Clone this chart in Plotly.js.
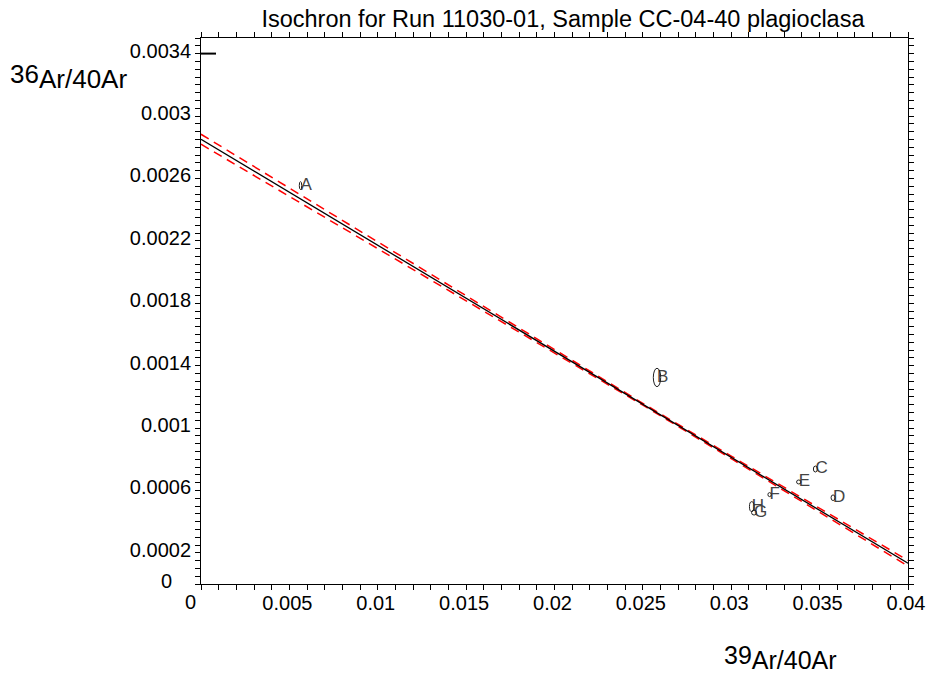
<!DOCTYPE html>
<html>
<head>
<meta charset="utf-8">
<script src="https://cdn.plot.ly/plotly-3.0.1.min.js"></script>
<style>html,body{margin:0;padding:0;background:#fff;}#chart{width:926px;height:677px;}</style>
</head>
<body>
<div id="chart"></div>
<script>
// ---- data ----
const pointLabels = ['A', 'B', 'C', 'D', 'E', 'F', 'G', 'H'];
const pointX = [0.00563, 0.0258, 0.03476, 0.03576, 0.03382, 0.03217, 0.03129, 0.03116];
const pointY = [0.002554, 0.001324, 0.000737, 0.000553, 0.000654, 0.000573, 0.000458, 0.000496];
const errX = [0.000068, 0.000209, 0.000113, 0.000113, 0.000124, 0.000096, 0.000141, 0.00013];
const errY = [0.0000256, 0.000059, 0.0000192, 0.000018, 0.0000128, 0.0000128, 0.000016, 0.000032];

const fitX = [0, 0.04];
const fitY = [0.002851, 0.0001327];

const envX = [0, 0.005, 0.01, 0.015, 0.02, 0.025, 0.03, 0.035, 0.04];
const envUpper = [0.002883, 0.002537, 0.002191, 0.001847, 0.001501, 0.001158, 0.000820, 0.000485, 0.000151];
const envLower = [0.002819, 0.002485, 0.002151, 0.001817, 0.001483, 0.001146, 0.000804, 0.000461, 0.000115];

const markX = [0, 0.00085];
const markY = [0.0034, 0.0034];

const xTickVals = [0.005, 0.01, 0.015, 0.02, 0.025, 0.03, 0.035, 0.04];
const xTickText = ['0.005', '0.01', '0.015', '0.02', '0.025', '0.03', '0.035', '0.04'];
const yTickVals = [0.0002, 0.0006, 0.001, 0.0014, 0.0018, 0.0022, 0.0026, 0.003, 0.0034];
const yTickText = ['0.0002', '0.0006', '0.001', '0.0014', '0.0018', '0.0022', '0.0026', '0.003', '0.0034'];
const zeroLabel = '0';

const titleText = 'Isochron for Run 11030-01, Sample CC-04-40 plagioclasa';
const yTitleText = '36<sub><span style="font-size:143%">Ar/40Ar</span></sub>';
const xTitleText = '39<sub><span style="font-size:143%">Ar/40Ar</span></sub>';

// ---- chart ----
const FONT = 'Liberation Sans, Arial, sans-serif';

const traces = [
  {x: envX, y: envUpper, mode: 'lines', line: {color: '#ff0000', width: 1.5, dash: '9px,6px'}, hoverinfo: 'skip'},
  {x: envX, y: envLower, mode: 'lines', line: {color: '#ff0000', width: 1.5, dash: '9px,6px'}, hoverinfo: 'skip'},
  {x: fitX, y: fitY, mode: 'lines', line: {color: '#000000', width: 1.3}, hoverinfo: 'skip'},
  {x: markX, y: markY, mode: 'lines', line: {color: '#000000', width: 2}, hoverinfo: 'skip'},
  {x: pointX, y: pointY, text: pointLabels, mode: 'text', textposition: 'middle right',
   textfont: {family: FONT, size: 17, color: '#444444'}, hoverinfo: 'skip', cliponaxis: false}
];

const shapes = pointX.map((cx, i) => ({
  type: 'circle', xref: 'x', yref: 'y',
  x0: cx - errX[i], x1: cx + errX[i],
  y0: pointY[i] - errY[i], y1: pointY[i] + errY[i],
  line: {color: '#222222', width: 1}, fillcolor: 'rgba(0,0,0,0)'
}));

const axisCommon = {
  showgrid: false, zeroline: false, showline: true, linecolor: '#000', linewidth: 1,
  mirror: 'ticks', ticks: 'outside', ticklen: 5, tickwidth: 1, tickcolor: '#000',
  tickfont: {family: FONT, size: 20, color: '#000'}, tickmode: 'array', fixedrange: true
};

const layout = {
  width: 926, height: 677,
  margin: {l: 201, r: 18, t: 38, b: 93},
  paper_bgcolor: '#fff', plot_bgcolor: '#fff',
  showlegend: false,
  font: {family: FONT, color: '#000'},
  title: {text: titleText, font: {family: FONT, size: 23.5, color: '#000'},
          xref: 'paper', x: 0.512, xanchor: 'center', yref: 'container', y: 0.972, yanchor: 'middle'},
  xaxis: Object.assign({}, axisCommon, {
    range: [0, 0.04], tickvals: xTickVals, ticktext: xTickText, ticklabelshift: -2, ticklabelstandoff: -4,
    minor: {dtick: 0.001, tick0: 0, ticks: 'outside', ticklen: 5, tickcolor: '#000', tickwidth: 1}
  }),
  yaxis: Object.assign({}, axisCommon, {
    range: [0, 0.0035], tickvals: yTickVals, ticktext: yTickText, ticklabelshift: -3,
    minor: {dtick: 0.00005, tick0: 0, ticks: 'outside', ticklen: 5, tickcolor: '#000', tickwidth: 1}
  }),
  shapes: shapes,
  annotations: [
    {text: yTitleText, xref: 'paper', yref: 'paper', x: -0.273, y: 0.9286, xanchor: 'left', yanchor: 'middle',
     showarrow: false, font: {family: FONT, size: 26, color: '#000'}},
    {text: xTitleText, xref: 'paper', yref: 'paper', x: 0.737, y: -0.1337, xanchor: 'left', yanchor: 'middle',
     showarrow: false, font: {family: FONT, size: 25, color: '#000'}},
    {text: zeroLabel, xref: 'x', yref: 'paper', x: 0, y: 0, xanchor: 'center', yanchor: 'top', xshift: -11, yshift: -5,
     showarrow: false, font: {family: FONT, size: 20, color: '#000'}},
    {text: zeroLabel, xref: 'paper', yref: 'y', x: 0, y: 0, xanchor: 'right', yanchor: 'middle', xshift: -27, yshift: 3,
     showarrow: false, font: {family: FONT, size: 20, color: '#000'}}
  ]
};

Plotly.newPlot('chart', traces, layout, {displayModeBar: false, staticPlot: true});
</script>
</body>
</html>
